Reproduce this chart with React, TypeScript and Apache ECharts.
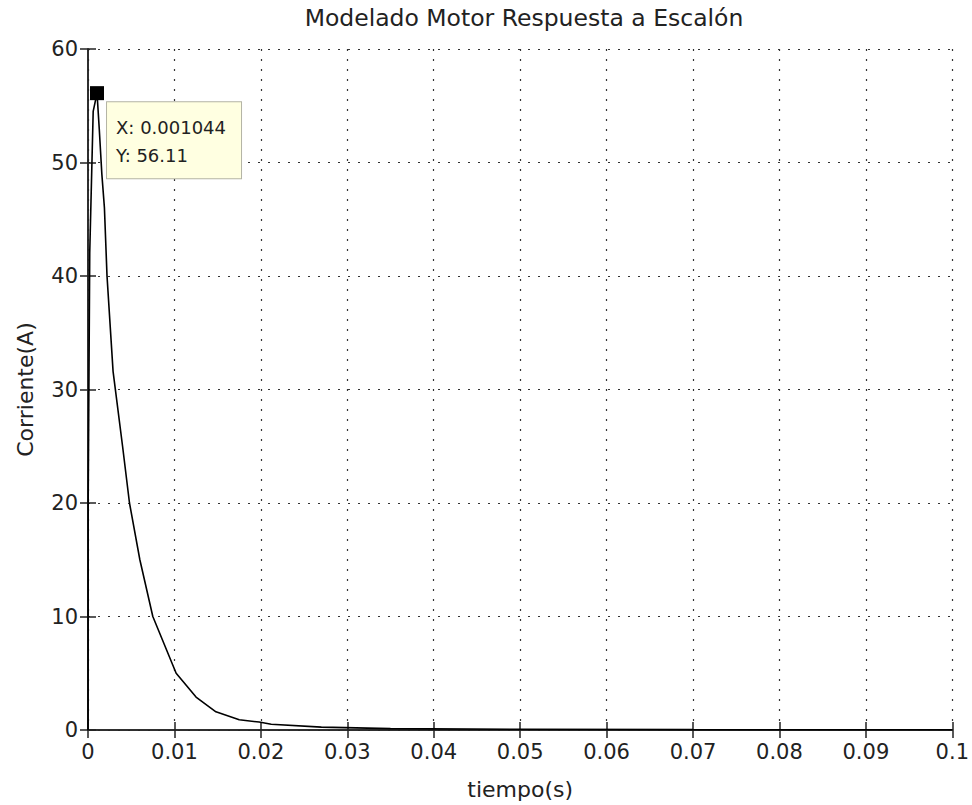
import React, { useEffect, useRef } from "react";
import * as echarts from "echarts";

const titleText = "Modelado Motor Respuesta a Escalón";
const xName = "tiempo(s)";
const yName = "Corriente(A)";

const tiempo = [0, 0.00002, 0.0002, 0.0006, 0.001044, 0.0013, 0.0016, 0.0019, 0.0022, 0.0029, 0.004, 0.0048, 0.006, 0.0075, 0.0102, 0.0125, 0.0148, 0.0175, 0.0198, 0.0212, 0.027, 0.035, 0.05, 0.07, 0.1];
const corriente = [0, 20, 42, 54.5, 56.11, 53, 49, 46, 40, 31.6, 25, 20, 15, 10, 5.0, 2.9, 1.6, 0.9, 0.7, 0.5, 0.25, 0.12, 0.06, 0.03, 0.02];

const peakX = 0.001044;
const peakY = 56.11;

const FONT = "DejaVu Sans";

export default function App() {
  const ref = useRef<HTMLDivElement>(null);
  useEffect(() => {
    document.body.style.margin = "0";
    const chart = echarts.init(ref.current!, undefined, { renderer: "svg" });
    const data = tiempo.map((t, i) => [t, corriente[i]]);
    const gridLine = { show: true, lineStyle: { color: "#333", width: 1.2, type: [2, 8] as any } };
    const axisLine = { show: true, lineStyle: { color: "#222", width: 1.5 } };
    const tick = { show: true, inside: true, length: 8, lineStyle: { color: "#222", width: 1.5 } };
    chart.setOption({
      animation: false,
      backgroundColor: "#ffffff",
      title: {
        text: titleText,
        left: 519,
        top: 1,
        textAlign: "center",
        textStyle: { fontFamily: FONT, fontSize: 23.5, fontWeight: "normal", color: "#222" },
      },
      grid: { left: 88, right: 17, top: 49, bottom: 72, containLabel: false },
      xAxis: [
        {
          type: "value",
          min: 0,
          max: 0.1,
          interval: 0.01,
          name: xName,
          nameLocation: "middle",
          nameGap: 48,
          nameTextStyle: { fontFamily: FONT, fontSize: 22, color: "#222" },
          axisLine,
          axisTick: tick,
          splitLine: gridLine,
          axisLabel: {
            fontFamily: FONT,
            fontSize: 21,
            color: "#222",
            margin: 11,
            formatter: (v: number) => String(parseFloat(v.toFixed(4))),
          },
        },
        {
          type: "value",
          position: "top",
          min: 0,
          max: 0.1,
          interval: 0.01,
          axisLine,
          axisTick: tick,
          splitLine: { show: false },
          axisLabel: { show: false },
        },
      ],
      yAxis: [
        {
          type: "value",
          min: 0,
          max: 60,
          interval: 10,
          name: yName,
          nameLocation: "middle",
          nameGap: 52,
          nameTextStyle: { fontFamily: FONT, fontSize: 22, color: "#222" },
          axisLine,
          axisTick: tick,
          splitLine: gridLine,
          axisLabel: { fontFamily: FONT, fontSize: 21, color: "#222", margin: 10 },
        },
        {
          type: "value",
          position: "right",
          min: 0,
          max: 60,
          interval: 10,
          axisLine,
          axisTick: tick,
          splitLine: { show: false },
          axisLabel: { show: false },
        },
      ],
      series: [
        {
          type: "line",
          data,
          showSymbol: false,
          lineStyle: { color: "#000", width: 1.6 },
          markPoint: {
            symbol: "rect",
            symbolSize: 14,
            itemStyle: { color: "#000" },
            data: [{ coord: [peakX, peakY] }],
            label: {
              show: true,
              position: [17, 16],
              formatter: `X: ${peakX}\nY: ${peakY}`,
              fontFamily: FONT,
              fontSize: 18,
              color: "#222",
              lineHeight: 28,
              align: "left",
              verticalAlign: "top",
              backgroundColor: "#ffffe1",
              borderColor: "#b4b4a4",
              borderWidth: 1,
              padding: [11, 15, 9, 9],
            },
          },
        },
      ],
    });
    return () => chart.dispose();
  }, []);
  return <div ref={ref} style={{ width: 972, height: 805 }} />;
}
